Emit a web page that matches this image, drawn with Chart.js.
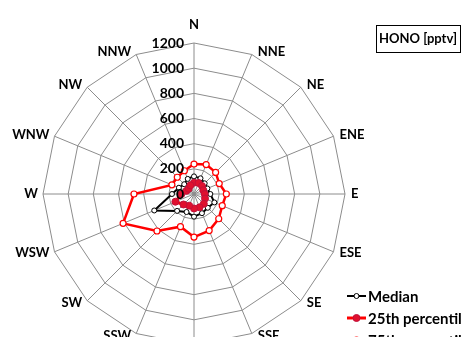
<!DOCTYPE html>
<html>
<head>
<meta charset="utf-8">
<script src="https://cdn.jsdelivr.net/npm/chart.js@4/dist/chart.umd.min.js"></script>
<style>
    html, body { margin: 0; padding: 0; background: #fff; overflow: hidden; }
    #wrap { position: relative; width: 461px; height: 400px; }
</style>
</head>
<body>
<div id="wrap"><canvas id="roseChart" width="461" height="400"></canvas></div>
<script>
const directions = ['N', 'NNE', 'NE', 'ENE', 'E', 'ESE', 'SE', 'SSE', 'S', 'SSW', 'SW', 'WSW', 'W', 'WNW', 'NW', 'NNW'];
const medianValues = [140, 135, 120, 115, 130, 175, 155, 165, 180, 155, 190, 342, 175, 130, 110, 130];
const p25Values = [90, 95, 90, 80, 85, 95, 110, 115, 115, 100, 118, 160, 100, 65, 60, 75];
const p75Values = [238, 253, 243, 217, 257, 243, 278, 315, 342, 281, 416, 610, 477, 190, 188, 200];
const tickValues = [0, 200, 400, 600, 800, 1000, 1200];
const seriesNames = ['Median', '25th percentile', '75th percentile'];
const boxTitle = 'HONO [pptv]';

const FONT = 'Lato, "Liberation Sans", sans-serif';

// labels around the rose, tick numbers on the north spoke, legend and title box
const roseLabels = {
    id: 'roseLabels',
    afterDraw(chart) {
        const ctx = chart.ctx;
        const r = chart.scales.r;
        ctx.save();
        ctx.fillStyle = '#000';

        // compass labels
        ctx.font = 'bold 13px ' + FONT;
        directions.forEach((d, i) => {
            const p = r.getPointPosition(i, r.drawingArea);
            const ang = i * Math.PI / 8;
            const s = Math.sin(ang);
            const c = Math.cos(ang);
            ctx.textBaseline = 'middle';
            if (Math.abs(s) < 0.01) {
                ctx.textAlign = 'center';
                ctx.fillText(d, p.x, p.y - 18 * c);
            } else {
                ctx.textAlign = s > 0 ? 'left' : 'right';
                ctx.fillText(d, p.x + (s > 0 ? 6 : -5), p.y - 3 * c);
            }
        });

        // radial tick numbers
        ctx.font = 'bold 14px ' + FONT;
        ctx.textAlign = 'right';
        ctx.textBaseline = 'middle';
        tickValues.forEach(v => {
            const y = r.yCenter - r.getDistanceFromCenterForValue(v);
            ctx.fillText(String(v), r.xCenter - 10, y);
        });

        // title box
        ctx.strokeStyle = '#000';
        ctx.lineWidth = 1;
        ctx.strokeRect(376.5, 25.5, 84, 27);
        ctx.font = 'bold 13px ' + FONT;
        ctx.textAlign = 'left';
        ctx.fillText(boxTitle, 379, 39);

        // legend
        ctx.font = 'bold 15px ' + FONT;
        chart.data.datasets.forEach((ds, i) => {
            const y = 296 + i * 22;
            ctx.strokeStyle = ds.borderColor;
            ctx.lineWidth = ds.borderWidth;
            ctx.beginPath();
            ctx.moveTo(347, y);
            ctx.lineTo(366, y);
            ctx.stroke();
            ctx.beginPath();
            ctx.arc(356.5, y, ds.pointRadius, 0, Math.PI * 2);
            ctx.fillStyle = ds.pointBackgroundColor;
            ctx.fill();
            ctx.lineWidth = ds.pointBorderWidth;
            ctx.strokeStyle = ds.pointBorderColor;
            ctx.stroke();
            ctx.fillStyle = '#000';
            ctx.textAlign = 'left';
            ctx.fillText(ds.label, 368, y + 1);
        });
        ctx.restore();
    }
};

const ctx = document.getElementById('roseChart').getContext('2d');
const roseChart = new Chart(ctx, {
    type: 'radar',
    data: {
        labels: directions,
        datasets: [{
                label: seriesNames[0],
                data: medianValues,
                borderColor: '#000',
                borderWidth: 2,
                pointRadius: 2.5,
                pointBackgroundColor: '#fff',
                pointBorderColor: '#000',
                pointBorderWidth: 1,
                fill: false,
                order: 2
            },
            {
                label: seriesNames[1],
                data: p25Values,
                borderColor: '#ff0000',
                borderWidth: 3,
                pointRadius: 3.5,
                pointBackgroundColor: '#e0102e',
                pointBorderColor: '#c0103a',
                pointBorderWidth: 1,
                fill: false,
                order: 1
            },
            {
                label: seriesNames[2],
                data: p75Values,
                borderColor: '#ff0000',
                borderWidth: 2.5,
                pointRadius: 3,
                pointBackgroundColor: '#fff',
                pointBorderColor: '#ff0000',
                pointBorderWidth: 1.2,
                fill: false,
                order: 3
            }
        ]
    },
    options: {
        responsive: false,
        animation: false,
        layout: {
            padding: { left: 43, top: 43, right: 116, bottom: 55 }
        },
        plugins: {
            legend: { display: false },
            tooltip: { enabled: false }
        },
        elements: {
            line: { tension: 0 }
        },
        scales: {
            r: {
                min: 0,
                max: 1200,
                ticks: { stepSize: 200, display: false },
                grid: { circular: false, color: '#8c8c8c', lineWidth: 1 },
                angleLines: { color: '#8c8c8c', lineWidth: 1 },
                pointLabels: { display: false }
            }
        }
    },
    plugins: [roseLabels]
});
</script>
</body>
</html>
